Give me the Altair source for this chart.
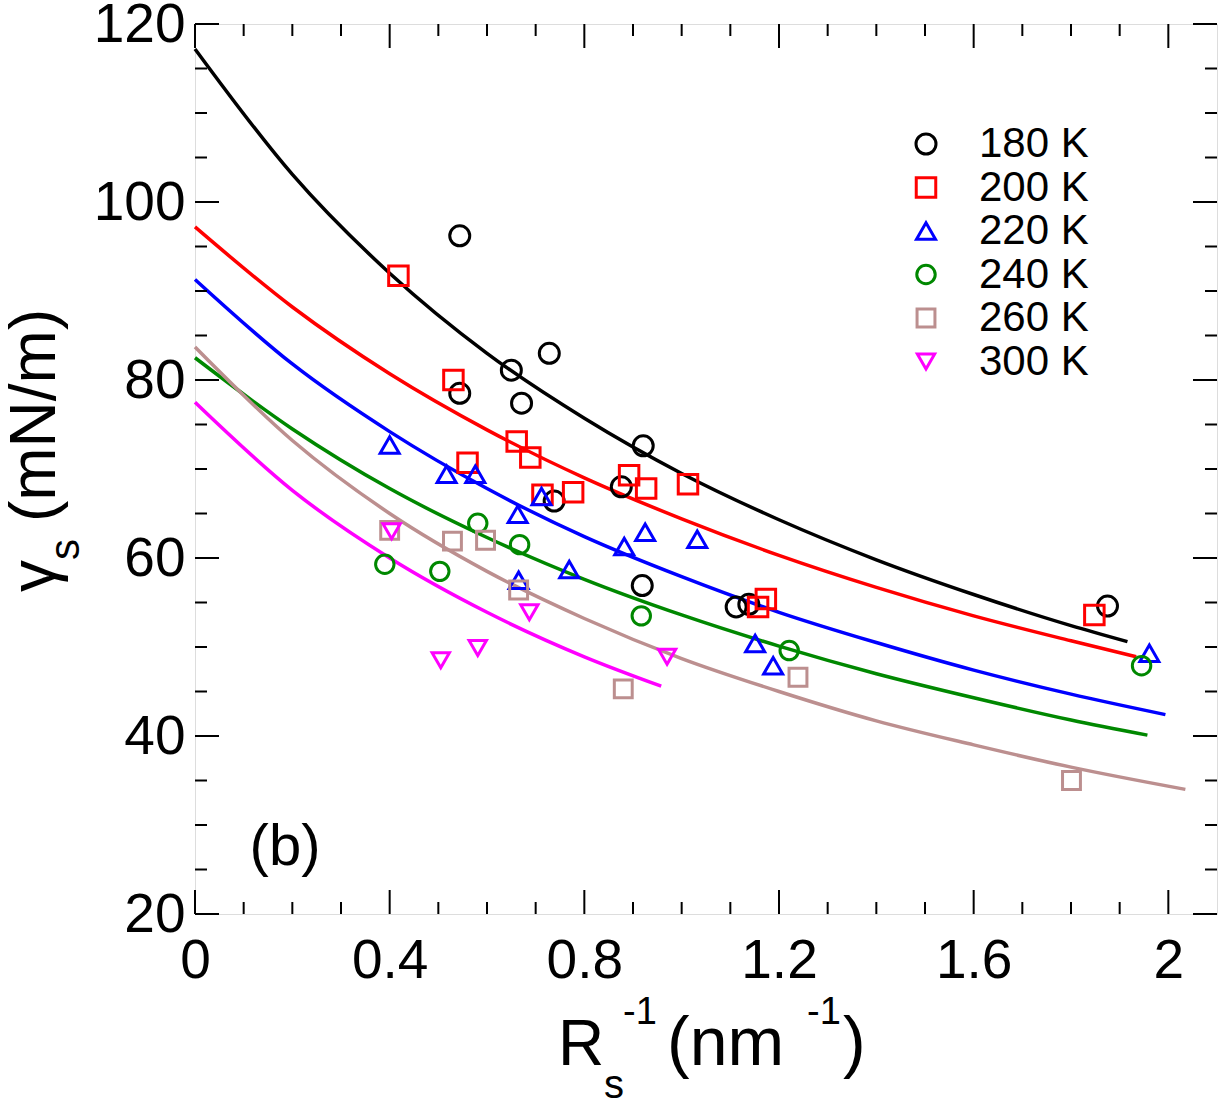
import altair as alt
import pandas as pd

series = ["180 K", "200 K", "220 K", "240 K", "260 K", "300 K"]
colors = ["#000000", "#ff0000", "#0000ff", "#008800", "#bc8f8f", "#ff00ff"]
shapes = ["circle", "square", "triangle-up", "circle", "square", "triangle-down"]
marker_sizes = [400, 300, 600, 400, 300, 600]

# ---- data points ----
pts_x_180 = [0.544, 0.544, 0.650, 0.671, 0.728, 0.738, 0.876, 0.921, 0.919, 1.112, 1.138, 1.875]
pts_y_180 = [96.2, 78.5, 81.1, 77.4, 83.0, 66.4, 68.0, 72.6, 56.9, 54.5, 54.8, 54.6]

pts_x_200 = [0.418, 0.531, 0.560, 0.661, 0.689, 0.714, 0.777, 0.892, 0.927, 1.013, 1.157, 1.173, 1.848]
pts_y_200 = [91.7, 80.0, 70.7, 73.1, 71.3, 67.1, 67.4, 69.3, 67.8, 68.3, 54.5, 55.4, 53.6]

pts_x_220 = [0.400, 0.517, 0.576, 0.663, 0.712, 0.665, 0.769, 0.882, 0.925, 1.032, 1.151, 1.188, 1.961]
pts_y_220 = [72.7, 69.4, 69.4, 64.9, 66.9, 57.5, 58.7, 61.3, 62.9, 62.1, 50.4, 47.9, 49.3]

pts_x_240 = [0.390, 0.503, 0.581, 0.667, 0.917, 1.221, 1.945]
pts_y_240 = [59.3, 58.5, 63.9, 61.5, 53.5, 49.6, 47.9]

pts_x_260 = [0.400, 0.529, 0.597, 0.665, 0.880, 1.239, 1.801]
pts_y_260 = [63.1, 61.9, 62.0, 56.4, 45.3, 46.6, 35.0]

pts_x_300 = [0.404, 0.505, 0.581, 0.687, 0.970]
pts_y_300 = [63.0, 48.5, 49.9, 53.9, 48.9]

# ---- fitted curves ----
fit_x_180 = [0.0, 0.2, 0.4, 0.6, 0.8, 1.0, 1.2, 1.4, 1.6, 1.8, 1.916]
fit_y_180 = [117.2, 103.1, 92.0, 83.0, 75.7, 69.5, 64.3, 59.8, 55.9, 52.4, 50.6]

fit_x_200 = [0.0, 0.2, 0.4, 0.6, 0.8, 1.0, 1.2, 1.4, 1.6, 1.8, 1.934]
fit_y_200 = [97.2, 88.2, 80.7, 74.4, 69.0, 64.4, 60.3, 56.7, 53.5, 50.7, 48.9]

fit_x_220 = [0.0, 0.2, 0.4, 0.6, 0.8, 1.0, 1.2, 1.4, 1.6, 1.8, 1.994]
fit_y_220 = [91.3, 81.8, 74.2, 67.8, 62.4, 57.9, 53.9, 50.5, 47.4, 44.7, 42.4]

fit_x_240 = [0.0, 0.2, 0.4, 0.6, 0.8, 1.0, 1.2, 1.4, 1.6, 1.8, 1.957]
fit_y_240 = [82.5, 74.5, 67.8, 62.3, 57.6, 53.6, 50.1, 47.0, 44.3, 41.8, 40.1]

fit_x_260 = [0.0, 0.2, 0.4, 0.6, 0.8, 1.0, 1.2, 1.4, 1.6, 1.8, 2.035]
fit_y_260 = [83.7, 73.2, 65.0, 58.5, 53.2, 48.7, 45.0, 41.7, 39.0, 36.5, 34.0]

fit_x_300 = [0.0, 0.2, 0.4, 0.6, 0.8, 0.958]
fit_y_300 = [77.5, 67.6, 60.0, 53.9, 48.9, 45.6]

# ---- tick values ----
x_major = [0.0, 0.4, 0.8, 1.2, 1.6, 2.0]
x_minor = [0.1, 0.2, 0.3, 0.5, 0.6, 0.7, 0.9, 1.0, 1.1, 1.3, 1.4, 1.5, 1.7, 1.8, 1.9]
y_major = [20, 40, 60, 80, 100, 120]
y_minor = [25, 30, 35, 45, 50, 55, 65, 70, 75, 85, 90, 95, 105, 110, 115]

panel_label = ["(b)"]
panel_label_x = [0.185]
panel_label_y = [27.4]

# ---- build tables ----
pts_x = [pts_x_180, pts_x_200, pts_x_220, pts_x_240, pts_x_260, pts_x_300]
pts_y = [pts_y_180, pts_y_200, pts_y_220, pts_y_240, pts_y_260, pts_y_300]
fit_x = [fit_x_180, fit_x_200, fit_x_220, fit_x_240, fit_x_260, fit_x_300]
fit_y = [fit_y_180, fit_y_200, fit_y_220, fit_y_240, fit_y_260, fit_y_300]

pts_rows, fit_rows = [], []
for s, xs, ys in zip(series, pts_x, pts_y):
    for a, b in zip(xs, ys):
        pts_rows.append({"series": s, "x": a, "y": b})
for s, xs, ys in zip(series, fit_x, fit_y):
    for a, b in zip(xs, ys):
        fit_rows.append({"series": s, "x": a, "y": b})
pts_df = pd.DataFrame(pts_rows)
fit_df = pd.DataFrame(fit_rows)

W, H = 1022, 890
FONT = "Liberation Sans"

xscale = alt.Scale(domain=[0, 2.1], nice=False, zero=False)
yscale = alt.Scale(domain=[20, 120], nice=False, zero=False)
cscale = alt.Scale(domain=series, range=colors)
sscale = alt.Scale(domain=series, range=shapes)
zscale = alt.Scale(domain=series, range=marker_sizes)

xaxis = alt.Axis(values=x_major, format=".1~f", title=None, domain=False, ticks=False,
                 grid=False, labelFontSize=55, labelFont=FONT, labelColor="black",
                 labelPadding=20, labelFlush=False)
yaxis = alt.Axis(values=y_major, title=None, domain=False, ticks=False, grid=False,
                 labelFontSize=55, labelFont=FONT, labelColor="black", labelPadding=10,
                 labelFlush=False)

legend = alt.Legend(title=None, orient="none", legendX=710, legendY=99,
                    labelFontSize=42, labelFont=FONT, labelColor="black",
                    symbolSize=240, symbolStrokeWidth=3, labelOffset=32,
                    rowPadding=1.5, padding=0)

lines = alt.Chart(fit_df).mark_line(strokeWidth=3.5, interpolate="monotone").encode(
    x=alt.X("x:Q", scale=xscale, axis=xaxis),
    y=alt.Y("y:Q", scale=yscale, axis=yaxis),
    color=alt.Color("series:N", scale=cscale, legend=None),
    detail="series:N",
    order="x:Q",
)

points = alt.Chart(pts_df).mark_point(filled=False, strokeWidth=3, opacity=1).encode(
    x=alt.X("x:Q", scale=xscale),
    y=alt.Y("y:Q", scale=yscale),
    color=alt.Color("series:N", scale=cscale, legend=legend),
    shape=alt.Shape("series:N", scale=sscale, legend=legend),
    size=alt.Size("series:N", scale=zscale, legend=None),
)

def tick_layer(vals, field_is_x, side, length):
    df = pd.DataFrame({"v": vals})
    base = alt.Chart(df).mark_rule(color="black", strokeWidth=2)
    if field_is_x:
        if side == "bottom":
            return base.encode(x=alt.X("v:Q", scale=xscale), y=alt.value(H), y2=alt.value(H - length))
        return base.encode(x=alt.X("v:Q", scale=xscale), y=alt.value(0), y2=alt.value(length))
    if side == "left":
        return base.encode(y=alt.Y("v:Q", scale=yscale), x=alt.value(0), x2=alt.value(length))
    return base.encode(y=alt.Y("v:Q", scale=yscale), x=alt.value(W), x2=alt.value(W - length))

ticks = [
    tick_layer(x_major, True, "bottom", 24), tick_layer(x_minor, True, "bottom", 12),
    tick_layer(x_major, True, "top", 24), tick_layer(x_minor, True, "top", 12),
    tick_layer(y_major, False, "left", 24), tick_layer(y_minor, False, "left", 12),
    tick_layer(y_major, False, "right", 24), tick_layer(y_minor, False, "right", 12),
]

lab_df = pd.DataFrame({"t": panel_label, "x": panel_label_x, "y": panel_label_y})
panel = alt.Chart(lab_df).mark_text(fontSize=58, font=FONT, color="black").encode(
    x=alt.X("x:Q", scale=xscale), y=alt.Y("y:Q", scale=yscale), text="t:N")

def txt(t, x, y, size, angle=0):
    return alt.Chart(alt.Data(values=[{}])).mark_text(
        text=t, fontSize=size, font=FONT, color="black", align="left",
        baseline="alphabetic", angle=angle).encode(x=alt.value(x), y=alt.value(y))

# x-axis title: R_s^-1 (nm^-1)
xt = [
    txt("R", 363, 1041, 64),
    txt("s", 409, 1074, 40),
    txt("-1", 428, 1000, 38),
    txt("(nm", 472, 1041, 68),
    txt("-1", 612, 1000, 38),
    txt(")", 648, 1041, 68),
]
# y-axis title: gamma_s (mN/m)
yt = [
    txt("γ", -140, 568, 64, 270),
    txt("s", -116, 536, 42, 270),
    txt("(mN/m)", -140, 498, 64, 270),
]

chart = alt.layer(lines, points, *ticks, panel, *xt, *yt).resolve_legend(
    color="independent", shape="independent", size="independent"
).properties(
    width=W, height=H,
    padding={"left": 195, "top": 24, "right": 2, "bottom": 193},
    autosize=alt.AutoSizeParams(type="none"),
).configure_view(stroke="black", strokeWidth=2.5).configure(background="white")

chart.save("out.html", embed_options={"renderer": "svg", "actions": False})
